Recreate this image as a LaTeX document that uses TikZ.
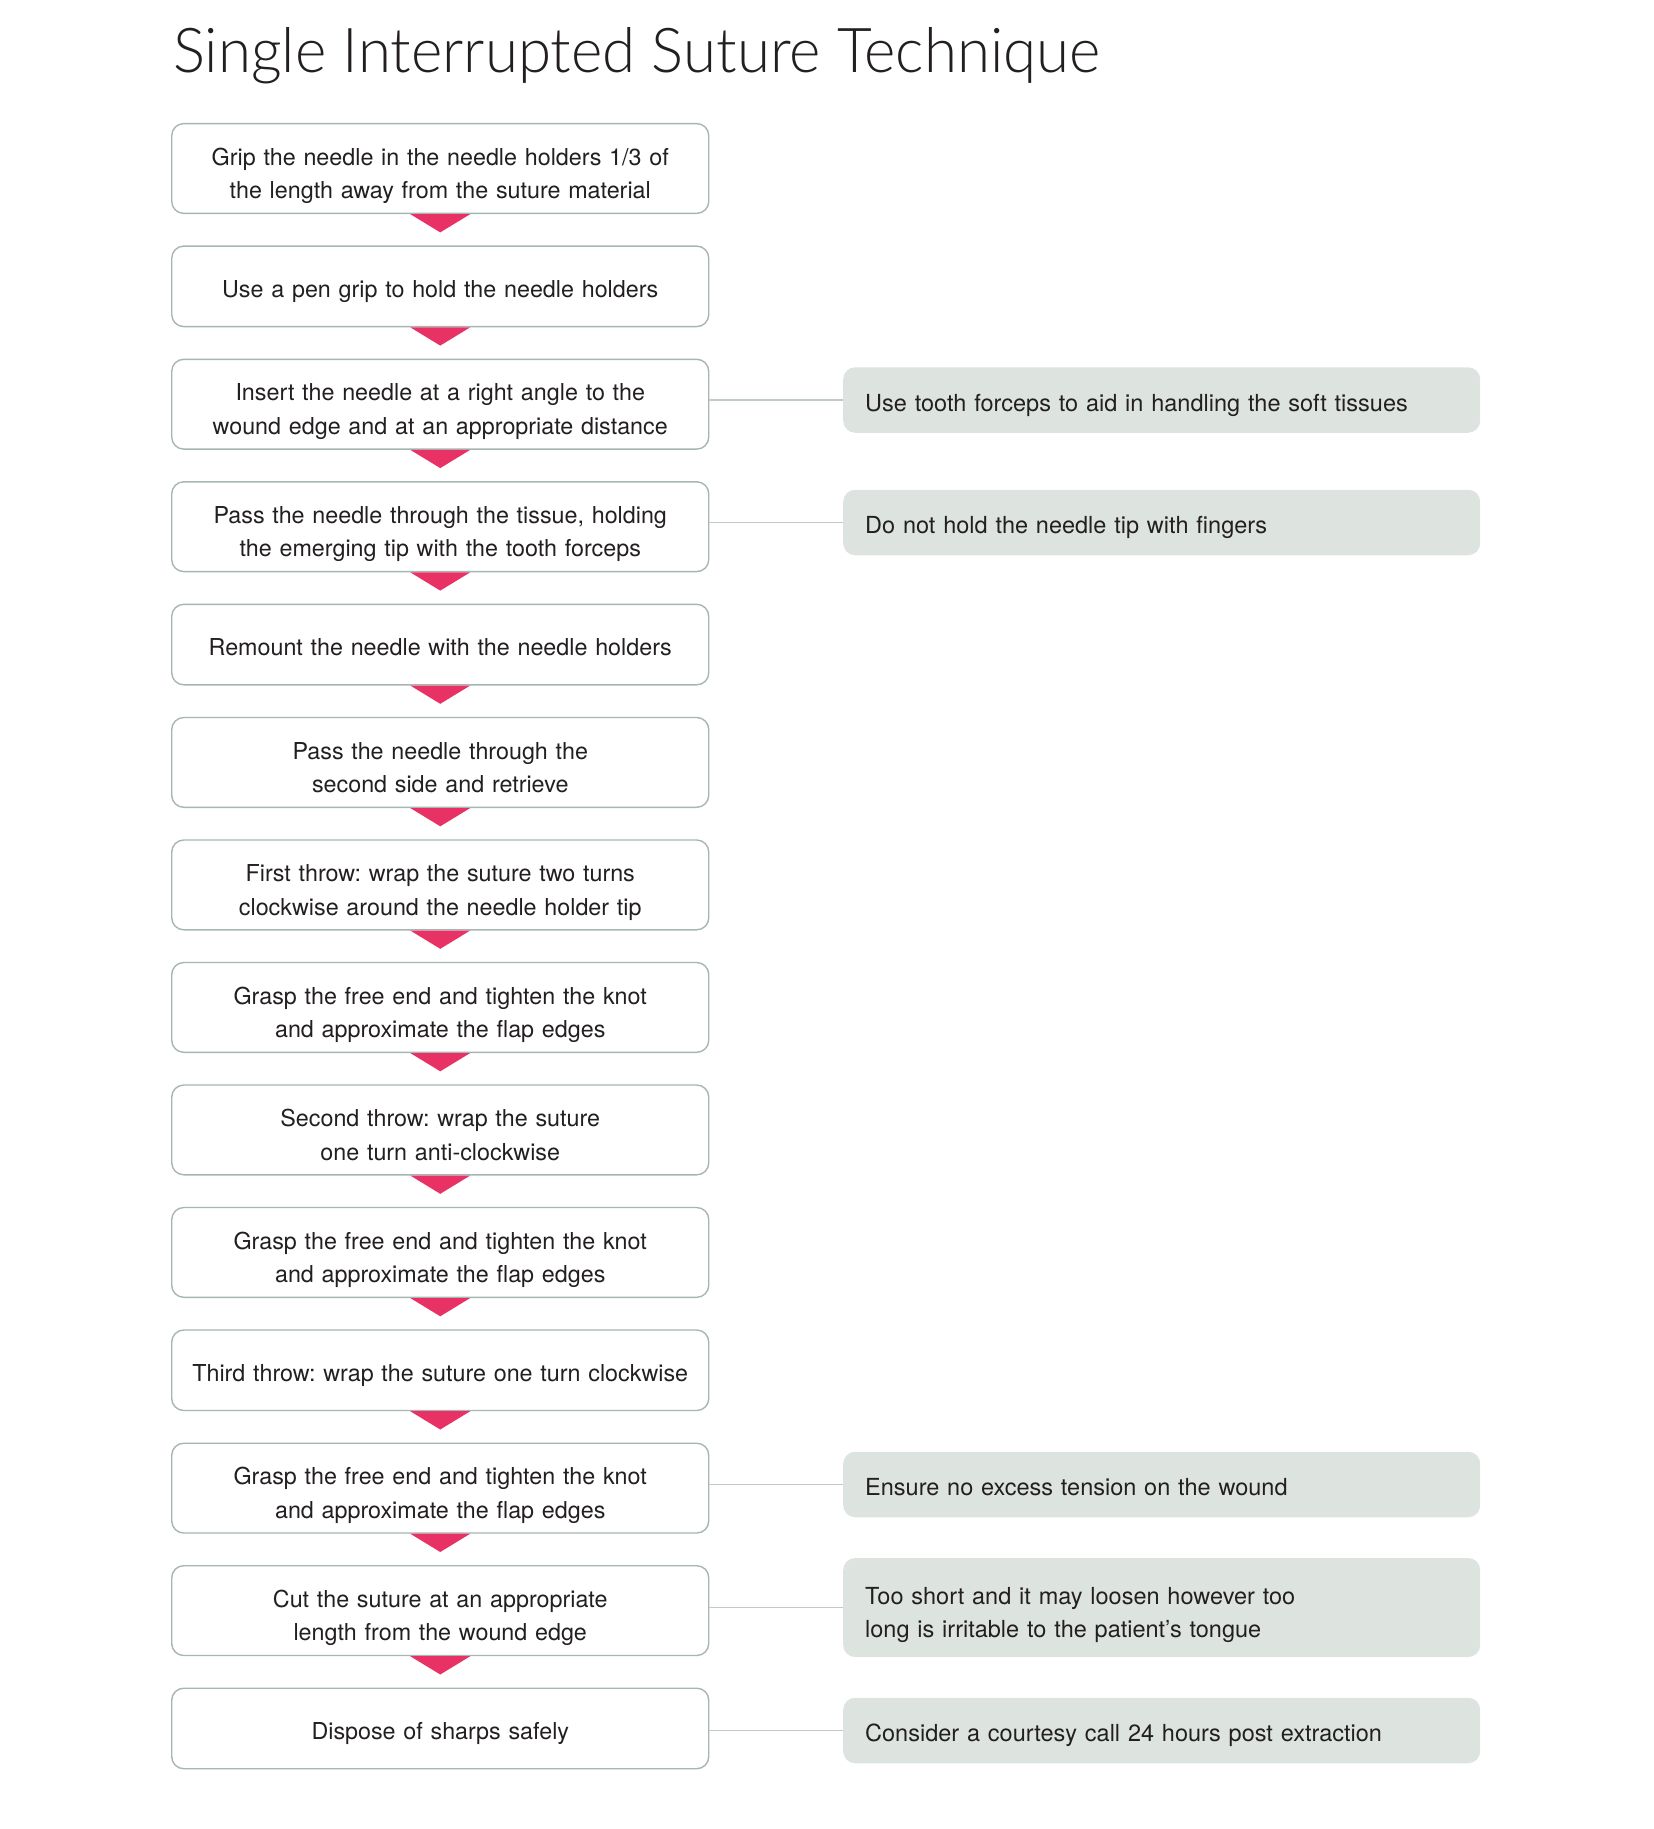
\documentclass[tikz,border=0pt]{standalone}
\usepackage{fontspec}
\usepackage{graphicx}
\setmainfont{TeX Gyre Heros}
\newfontfamily\titlefont{Lato Light}
\usetikzlibrary{positioning}
\definecolor{pinkc}{RGB}{232,50,102}
\definecolor{boxline}{RGB}{168,182,178}
\definecolor{sidefill}{RGB}{221,228,223}
\definecolor{linkc}{RGB}{192,202,199}
\definecolor{txt}{RGB}{35,31,32}
\frenchspacing
% struts fixing the text position inside the boxes
\newcommand\ta{\leavevmode\vrule width0pt height34.9pt depth0pt\relax}% top of two-line text
\newcommand\tz{\vrule width0pt height0pt depth8pt\relax}% bottom of two-line text
\newcommand\tb{\leavevmode\vrule width0pt height30.4pt depth8pt\relax}% one-line text
\newcommand\nsp{\spaceskip=.3333em plus .1em minus .05em\relax}% word spacing of the notes
\begin{document}
\begin{tikzpicture}[x=1pt,y=-1pt,
  stepbox/.style={draw=boxline, line width=1.4pt, rounded corners=12pt, fill=white,
    minimum width=537pt, text width=515pt, align=center, inner sep=0pt,
    font=\fontsize{23.3}{33.5}\selectfont, text=txt},
  two/.style={minimum height=89.8pt},
  one/.style={minimum height=80.5pt},
  note/.style={fill=sidefill, rounded corners=12pt, minimum width=637pt, text width=593pt,
    align=flush left, inner xsep=22pt, inner ysep=0pt, anchor=west,
    font=\fontsize{23.5}{33.5}\selectfont, text=txt},
  link/.style={draw=linkc, line width=1.2pt},
  tri/.style={fill=pinkc}]
\useasboundingbox (0,0) rectangle (1654,1829);
\node[anchor=base west, inner sep=0pt, text=txt] (title) at (173,72.5)
  {\resizebox{927pt}{45pt}{\titlefont Single Interrupted Suture Technique}};

\node[stepbox,two] (b1) at (440.25,168.5) {\ta Grip the needle in the needle holders 1/3 of\\the length away from the suture material\tz};
\node[stepbox,one] (b2) at (440.25,286.35) {\tb Use a pen grip to hold the needle holders};
\node[stepbox,two] (b3) at (440.25,404.2) {\ta Insert the needle at a right angle to the\\wound edge and at an appropriate distance\tz};
\node[stepbox,two] (b4) at (440.25,526.7) {\ta Pass the needle through the tissue, holding\\the emerging tip with the tooth forceps\tz};
\node[stepbox,one] (b5) at (440.25,644.55) {\tb Remount the needle with the needle holders};
\node[stepbox,two] (b6) at (440.25,762.4) {\ta Pass the needle through the\\second side and retrieve\tz};
\node[stepbox,two] (b7) at (440.25,884.9) {\ta First throw: wrap the suture two turns\\clockwise around the needle holder tip\tz};
\node[stepbox,two] (b8) at (440.25,1007.4) {\ta Grasp the free end and tighten the knot\\and approximate the flap edges\tz};
\node[stepbox,two] (b9) at (440.25,1129.9) {\ta Second throw: wrap the suture\\one turn anti-clockwise\tz};
\node[stepbox,two] (b10) at (440.25,1252.4) {\ta Grasp the free end and tighten the knot\\and approximate the flap edges\tz};
\node[stepbox,one] (b11) at (440.25,1370.25) {\tb Third throw: wrap the suture one turn clockwise};
\node[stepbox,two] (b12) at (440.25,1488.1) {\ta Grasp the free end and tighten the knot\\and approximate the flap edges\tz};
\node[stepbox,two] (b13) at (440.25,1610.6) {\ta Cut the suture at an appropriate\\length from the wound edge\tz};
\node[stepbox,one] (b14) at (440.25,1728.45) {\tb Dispose of sharps safely};

\foreach \n in {b1,b2,b3,b4,b5,b6,b7,b8,b9,b10,b11,b12,b13}
  \fill[tri] ([xshift=-30pt]\n.south) -- ([xshift=30pt]\n.south) -- ([yshift=-18.3pt]\n.south) -- cycle;

\node[note, minimum height=65.5pt] (s3) at (843,400) {\nsp\tb Use tooth forceps to aid in handling the soft tissues};
\node[note, minimum height=65.5pt] (s4) at (843,522.5) {\nsp\tb Do not hold the needle tip with fingers};
\node[note, minimum height=65.5pt] (s12) at (843,1484.5) {\nsp\tb Ensure no excess tension on the wound};
\node[note, minimum height=99pt] (s13) at (843,1607.5) {\nsp\ta Too short and it may loosen however too\\long is irritable to the patient’s tongue\tz};
\node[note, minimum height=65.5pt] (s14) at (843,1730.5) {\nsp\tb Consider a courtesy call 24 hours post extraction};

\draw[link] (b3.east |- s3.west) -- (s3.west);
\draw[link] (b4.east |- s4.west) -- (s4.west);
\draw[link] (b12.east |- s12.west) -- (s12.west);
\draw[link] (b13.east |- s13.west) -- (s13.west);
\draw[link] (b14.east |- s14.west) -- (s14.west);
\end{tikzpicture}
\end{document}
